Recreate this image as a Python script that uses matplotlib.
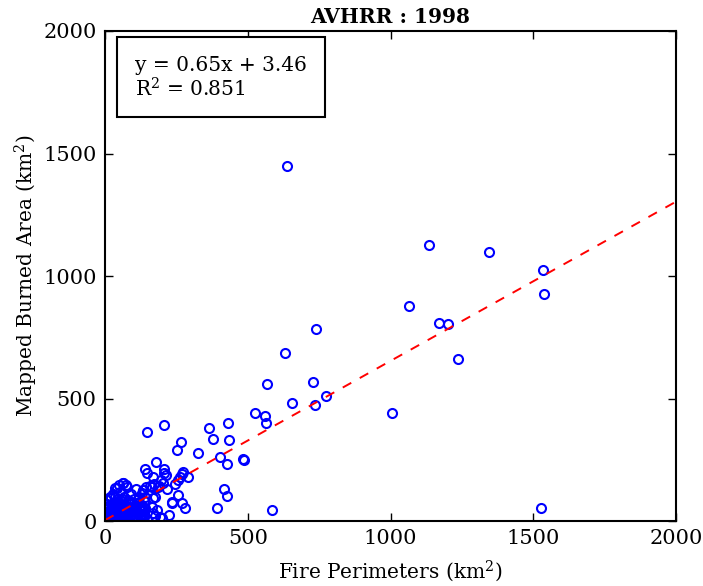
import matplotlib
matplotlib.use("Agg")
import matplotlib.pyplot as plt
from matplotlib.patches import Rectangle
import numpy as np

title = "AVHRR : 1998"
xlabel = "Fire Perimeters (km$^2$)"
ylabel = "Mapped Burned Area (km$^2$)"
xticks = [0, 500, 1000, 1500, 2000]
yticks = [0, 500, 1000, 1500, 2000]
slope = 0.65
intercept = 3.46
r2 = 0.851

fire_perim = [
    636, 1135, 1346, 1535, 1538, 1065, 1170, 1201, 739, 632, 1235, 727, 654, 774, 734, 1005, 1528,
    569, 527, 559, 563, 208, 146, 431, 363, 266, 251, 379, 435, 325, 403, 426, 485, 488, 178, 140,
    148, 205, 208, 212, 274, 268, 263, 257, 291, 246, 196, 190, 216, 418, 427, 393, 586, 257, 268,
    280, 236, 223, 158, 172, 144, 134, 204, 168, 140, 164, 181, 169, 193, 175,
    169, 187, 164, 233, 199, 175,
    64, 49, 35, 18, 74, 41, 62,
    5, 8, 10, 12, 15, 18, 20, 22, 25, 28, 30, 32, 35, 38, 40, 42, 45, 48, 50, 52, 55, 58, 60, 62,
    65, 68, 70, 72, 75, 78, 80, 82, 85, 88, 90, 92, 95, 98, 100, 102, 105, 108, 110, 112, 115, 118,
    120, 122, 125, 128, 130, 132, 135, 138, 140, 3, 6, 9, 14, 16, 24, 27, 33, 36, 44, 46, 54, 57,
    66, 76, 84, 86, 94, 96, 104, 106, 114, 116, 124, 126, 134, 136, 2, 4, 11, 21, 29, 31, 39, 51,
    59, 69, 79, 89, 99, 109, 119, 129,
]
mapped_area = [
    1449, 1128, 1099, 1023, 925, 876, 808, 805, 784, 684, 663, 569, 482, 512, 472, 441, 53,
    560, 442, 429, 401, 392, 365, 401, 380, 321, 291, 335, 332, 279, 261, 234, 252, 248, 242, 211,
    195, 213, 195, 188, 201, 191, 181, 167, 180, 152, 167, 143, 129, 129, 102, 53, 44, 106, 75,
    54, 75, 26, 143, 150, 137, 127, 154, 93, 99, 58, 45, 31, 15, 20,
    181, 140, 140, 79, 11, 99,
    154, 147, 133, 99, 147, 133, 156,
    10, 25, 5, 40, 60, 20, 95, 8, 30, 55, 15, 75, 45, 5, 25, 90, 60, 12, 35, 120, 80, 20, 50, 5,
    100, 30, 65, 15, 45, 140, 85, 10, 55, 25, 110, 70, 40, 5, 90, 20, 60, 130, 35, 75, 10, 50,
    100, 25, 65, 40, 115, 10, 80, 30, 55, 50, 70, 35, 15, 45, 70, 110, 28, 100, 40, 8, 65, 42,
    18, 28, 38, 72, 18, 58, 45, 8, 28, 88, 50, 12, 45, 18, 20, 90, 62, 48, 38, 2, 60, 2,
    88, 48, 2, 48, 30, 18, 72, 30,
]

plt.rcParams['font.family'] = ['DejaVu Serif']
plt.rcParams['mathtext.fontset'] = 'dejavuserif'

fig = plt.figure(figsize=(7.03, 5.86), dpi=100)
ax = fig.add_axes([0.1494, 0.1109, 0.8122, 0.8362])

ax.plot(fire_perim, mapped_area, linestyle='none', marker='o', markersize=6.5,
        markerfacecolor='none', markeredgecolor='blue', markeredgewidth=1.5)

xl = np.array([0, 2000])
ax.plot(xl, slope * xl + intercept, color='red', linestyle=(0, (5, 5)), linewidth=1.4)

ax.set_xlim(0, 2000)
ax.set_ylim(0, 2000)
ax.set_xticks(xticks)
ax.set_yticks(yticks)
ax.tick_params(direction='in', top=True, right=True, length=6, width=1, labelsize=15, pad=6)
for s in ax.spines.values():
    s.set_linewidth(1.5)

ax.set_xlabel(xlabel, fontsize=14.5, labelpad=7)
ax.set_ylabel(ylabel, fontsize=14.5, labelpad=2)
ax.set_title(title, fontsize=14.5, fontweight='bold', pad=6)

ax.add_patch(Rectangle((0.021, 0.8245), 0.364, 0.1635, transform=ax.transAxes,
                       facecolor='white', edgecolor='black', linewidth=1.5, zorder=5))
ax.text(0.0525, 0.919, "y = %.2fx + %.2f" % (slope, intercept), transform=ax.transAxes,
        fontsize=14.5, va='baseline', ha='left', zorder=6)
ax.text(0.0525, 0.867, "R$^2$ = %.3f" % r2, transform=ax.transAxes,
        fontsize=14.5, va='baseline', ha='left', zorder=6)

fig.savefig("out.png", dpi=100)
